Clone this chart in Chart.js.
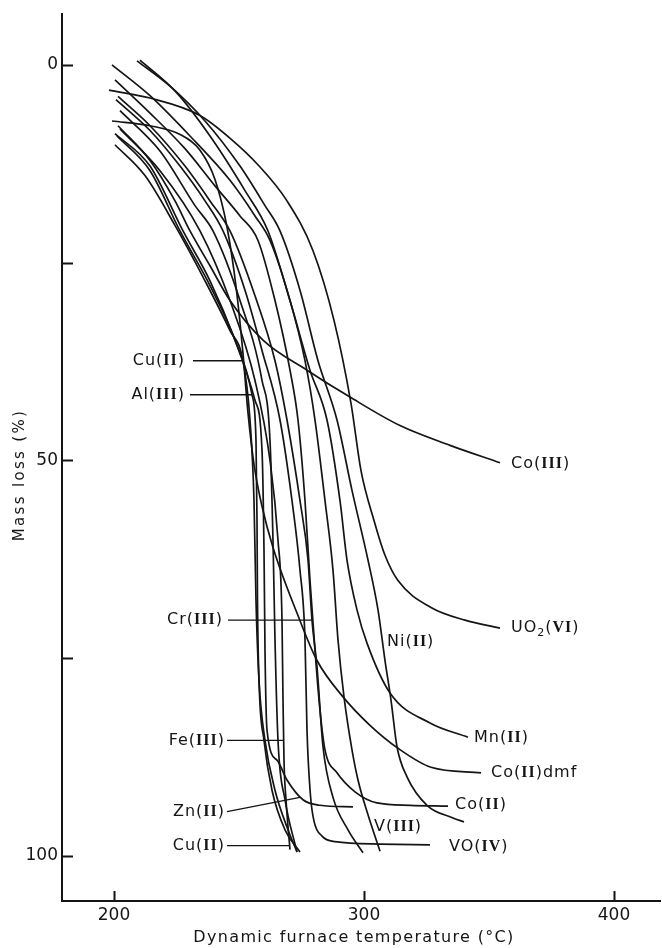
<!DOCTYPE html>
<html>
<head>
<meta charset="utf-8">
<script src="https://cdn.jsdelivr.net/npm/chart.js@4.4.0/dist/chart.umd.min.js"></script>
<style>
    html, body { margin: 0; padding: 0; background: #ffffff; }
    #caixa { width: 662px; height: 948px; }
</style>
</head>
<body>
<div id="caixa"><canvas id="graficoTG"></canvas></div>
<script>
// Escalas e marcas dos eixos
const xTicks = [200, 300, 400];
const yTicks = [0, 25, 50, 75, 100];
const yTickLabels = ['0', '', '50', '', '100'];

// Curvas termogravimétricas: temperatura (°C) e perda de massa (%)
const tempCu1 = [200.4, 212.4, 224.4, 236.4, 246.4, 251.6, 254.4, 256.0, 256.8, 258.0, 260.4, 264.4, 269.6, 273.2];
const perdaCu1 = [10.1, 14.0, 20.3, 27.3, 33.6, 37.4, 44.9, 55.1, 67.7, 77.8, 85.4, 91.7, 96.7, 99.5];

const tempAl = [201.2, 214.4, 226.4, 238.4, 248.4, 255.2, 256.8, 257.2, 257.4, 258.0, 260.0, 263.2, 268.4, 274.4];
const perdaAl = [9.0, 13.4, 21.0, 27.9, 34.8, 41.7, 47.5, 57.6, 67.7, 77.8, 85.4, 91.7, 96.7, 99.5];

const tempFe = [202.4, 218.4, 234.4, 246.4, 256.4, 262.4, 265.6, 267.2, 267.6, 268.0, 268.8, 270.4];
const perdaFe = [8.1, 13.4, 21.0, 29.8, 39.9, 50.0, 60.1, 70.2, 80.3, 87.9, 92.9, 99.2];

const tempCu2 = [202.4, 218.4, 232.4, 239.6, 250.4, 259.2, 262.4, 263.6, 264.4, 265.6, 268.4, 273.2];
const perdaCu2 = [5.8, 10.9, 17.8, 21.0, 29.8, 39.9, 47.5, 60.1, 72.7, 85.4, 92.9, 99.5];

const tempZn = [200.4, 214.4, 227.6, 238.4, 248.4, 256.4, 259.2, 260.0, 260.4, 261.2, 265.2, 269.2, 275.6, 282.4, 295.6];
const perdaZn = [8.7, 12.8, 21.0, 27.3, 34.8, 42.4, 48.7, 61.4, 74.0, 84.1, 87.9, 90.4, 92.9, 93.6, 93.8];

const tempCr = [201.6, 214.4, 228.4, 238.4, 246.4, 256.4, 264.4, 269.2, 274.4, 277.6, 279.2, 281.2, 283.6, 287.6, 293.6, 299.6];
const perdaCr = [4.0, 7.7, 12.8, 17.2, 21.0, 29.2, 37.4, 44.9, 55.1, 62.6, 70.2, 76.1, 86.2, 92.6, 96.7, 99.6];

const tempVO = [200.8, 214.4, 226.4, 236.4, 243.6, 252.4, 259.2, 266.4, 271.2, 274.4, 276.4, 277.2, 278.6, 280.0, 283.2, 288.4, 306.4, 326.4];
const perdaVO = [4.4, 8.3, 12.8, 17.2, 21.0, 28.5, 36.1, 44.9, 55.1, 63.9, 72.7, 84.1, 92.4, 95.6, 97.5, 98.2, 98.5, 98.6];

const tempCo2 = [200.4, 214.4, 228.4, 240.4, 250.4, 257.6, 264.4, 270.4, 273.6, 276.4, 278.4, 280.4, 282.4, 284.4, 289.2, 296.4, 305.2, 318.4, 333.6];
const perdaCo2 = [1.9, 6.1, 10.6, 15.3, 19.1, 22.2, 29.8, 38.6, 44.9, 55.1, 65.2, 74.0, 81.6, 86.6, 89.5, 91.9, 93.3, 93.6, 93.7];

const tempV = [199.2, 214.4, 230.4, 246.4, 256.4, 262.4, 270.4, 276.4, 280.4, 284.4, 287.6, 289.6, 292.0, 295.2, 297.6, 301.6, 306.4];
const perdaV = [0, 3.9, 9.0, 14.6, 19.1, 22.2, 29.8, 37.4, 44.9, 55.1, 63.9, 72.7, 79.9, 86.6, 90.4, 94.8, 99.4];

const tempMn = [210.4, 224.4, 238.4, 252.4, 261.6, 270.4, 278.4, 285.2, 290.4, 293.2, 297.2, 301.2, 310.4, 326.4, 341.6];
const perdaMn = [-0.6, 3.3, 9.0, 15.9, 21.0, 29.8, 38.6, 44.9, 55.1, 62.6, 68.9, 73.1, 79.4, 83.2, 85.0];

const tempNi = [209.2, 222.4, 236.4, 250.4, 260.4, 266.4, 274.4, 281.6, 289.2, 295.2, 301.6, 305.6, 308.4, 310.8, 313.2, 317.2, 325.2, 335.6, 340.0];
const perdaNi = [-0.5, 2.7, 7.1, 12.8, 17.8, 21.0, 28.5, 37.4, 44.9, 53.8, 62.6, 68.9, 75.3, 80.3, 86.2, 90.0, 93.6, 95.2, 95.7];

const tempDmf = [199.2, 214.4, 226.4, 234.4, 240.4, 245.2, 248.8, 251.6, 253.6, 256.0, 259.2, 263.6, 273.2, 281.2, 291.6, 302.4, 313.6, 326.8, 346.8];
const perdaDmf = [7.1, 7.7, 8.8, 10.8, 14.5, 20.5, 28.0, 36.5, 44.0, 50.5, 55.8, 61.0, 69.3, 75.3, 79.9, 83.5, 86.4, 88.8, 89.5];

const tempCo3 = [201.6, 214.4, 224.4, 230.4, 238.4, 246.4, 259.6, 277.2, 294.4, 314.4, 334.4, 354.4];
const perdaCo3 = [7.7, 12.1, 17.2, 21.0, 25.4, 29.8, 34.8, 38.6, 42.0, 45.6, 48.1, 50.3];

const tempUO2 = [198.0, 214.4, 234.4, 247.6, 257.2, 269.2, 279.6, 288.0, 294.8, 298.8, 304.0, 308.4, 313.6, 326.8, 340.4, 354.4];
const perdaUO2 = [3.2, 4.2, 6.4, 9.6, 12.5, 17.2, 23.5, 32.3, 42.8, 51.3, 57.6, 62.0, 65.2, 68.6, 70.2, 71.2];

const nomesCurvas = ['Cu(II)', 'Al(III)', 'Fe(III)', 'Cu(II)', 'Zn(II)', 'Cr(III)', 'VO(IV)', 'Co(II)',
    'V(III)', 'Mn(II)', 'Ni(II)', 'Co(II)dmf', 'Co(III)', 'UO2(VI)'];
const curvas = [
    [tempCu1, perdaCu1], [tempAl, perdaAl], [tempFe, perdaFe], [tempCu2, perdaCu2], [tempZn, perdaZn],
    [tempCr, perdaCr], [tempVO, perdaVO], [tempCo2, perdaCo2], [tempV, perdaV], [tempMn, perdaMn],
    [tempNi, perdaNi], [tempDmf, perdaDmf], [tempCo3, perdaCo3], [tempUO2, perdaUO2]
];

// Rótulos: texto, posição (°C, %), alinhamento; linhas de chamada em coordenadas dos dados
const rotulos = [
    { texto: 'Cu(II)', t: 228.4, p: 37.4, lado: 'right' },
    { texto: 'Al(III)', t: 228.4, p: 41.7, lado: 'right' },
    { texto: 'Cr(III)', t: 243.6, p: 70.2, lado: 'right' },
    { texto: 'Fe(III)', t: 244.4, p: 85.4, lado: 'right' },
    { texto: 'Zn(II)', t: 244.4, p: 94.4, lado: 'right' },
    { texto: 'Cu(II)', t: 244.4, p: 98.7, lado: 'right' },
    { texto: 'Co(III)', t: 358.8, p: 50.5, lado: 'left' },
    { texto: 'UO_2(VI)', t: 358.8, p: 71.2, lado: 'left' },
    { texto: 'Ni(II)', t: 309.2, p: 73.0, lado: 'left' },
    { texto: 'Mn(II)', t: 344.0, p: 85.1, lado: 'left' },
    { texto: 'Co(II)dmf', t: 350.8, p: 89.5, lado: 'left' },
    { texto: 'Co(II)', t: 336.4, p: 93.6, lado: 'left' },
    { texto: 'V(III)', t: 304.0, p: 96.3, lado: 'left' },
    { texto: 'VO(IV)', t: 334.0, p: 98.9, lado: 'left' }
];
const chamadas = [
    [231.6, 37.4, 251.6, 37.4],
    [230.4, 41.7, 255.2, 41.7],
    [245.6, 70.2, 279.6, 70.2],
    [245.2, 85.4, 267.6, 85.4],
    [245.2, 94.4, 274.4, 92.6],
    [245.2, 98.7, 270.4, 98.7]
];

document.addEventListener('DOMContentLoaded', function () {
    const cor = '#151515';
    const ctx = document.getElementById('graficoTG').getContext('2d');

    // Divide o rótulo em partes: letras sem serifa, algarismos romanos com serifa, índice
    function partesDoRotulo(texto) {
        const partes = [];
        let dentro = false;
        for (let i = 0; i < texto.length; i++) {
            const c = texto[i];
            if (c === '_') {
                partes.push({ t: texto[++i], tipo: 'sub' });
                continue;
            }
            if (c === '(') dentro = true;
            if (c === ')') dentro = false;
            const tipo = (dentro && 'IVX'.includes(c)) ? 'rom' : 'sans';
            const ultima = partes[partes.length - 1];
            if (ultima && ultima.tipo === tipo) ultima.t += c;
            else partes.push({ t: c, tipo: tipo });
        }
        return partes;
    }

    const fontes = {
        sans: '16px "DejaVu Sans"',
        rom: 'bold 16px "Liberation Serif"',
        sub: '11px "DejaVu Sans"'
    };

    function desenharRotulo(c, texto, x, y, lado) {
        const partes = partesDoRotulo(texto);
        c.letterSpacing = '1px';
        let largura = 0;
        partes.forEach(function (p) {
            c.font = fontes[p.tipo];
            p.w = c.measureText(p.t).width;
            largura += p.w;
        });
        let px = lado === 'right' ? x - largura : x;
        c.textAlign = 'left';
        c.textBaseline = 'middle';
        partes.forEach(function (p) {
            c.font = fontes[p.tipo];
            c.fillText(p.t, px, p.tipo === 'sub' ? y + 5 : y);
            px += p.w;
        });
    }

    // Texto com espaçamento ajustado para ocupar a largura desejada
    function textoEspacado(c, texto, fonte, largura) {
        c.font = fonte;
        c.letterSpacing = '0px';
        const w = c.measureText(texto).width;
        c.letterSpacing = ((largura - w) / (texto.length - 1)).toFixed(2) + 'px';
        c.textAlign = 'center';
        c.textBaseline = 'middle';
    }

    const decoracao = {
        id: 'decoracao',
        afterDraw(chart) {
            const c = chart.ctx;
            const area = chart.chartArea;
            const sx = chart.scales.x, sy = chart.scales.y;
            c.save();
            c.strokeStyle = cor;
            c.fillStyle = cor;

            // Marcas dos eixos voltadas para dentro
            c.lineWidth = 2;
            c.beginPath();
            yTicks.forEach(function (v) {
                const py = Math.round(sy.getPixelForValue(v)) + 0.5;
                c.moveTo(area.left, py);
                c.lineTo(area.left + 11, py);
            });
            xTicks.forEach(function (v) {
                const px = Math.round(sx.getPixelForValue(v)) + 0.5;
                c.moveTo(px, area.bottom);
                c.lineTo(px, area.bottom - 10);
            });
            c.stroke();

            // Linhas de chamada
            c.lineWidth = 1.4;
            c.beginPath();
            chamadas.forEach(function (l) {
                c.moveTo(sx.getPixelForValue(l[0]), sy.getPixelForValue(l[1]));
                c.lineTo(sx.getPixelForValue(l[2]), sy.getPixelForValue(l[3]));
            });
            c.stroke();

            // Rótulos das curvas
            rotulos.forEach(function (r) {
                desenharRotulo(c, r.texto, sx.getPixelForValue(r.t), sy.getPixelForValue(r.p), r.lado);
            });

            // Títulos dos eixos
            textoEspacado(c, 'Dynamic furnace temperature (°C)', '16px "DejaVu Sans"', 320);
            c.fillText('Dynamic furnace temperature (°C)', 354, 938);
            c.translate(20, 475);
            c.rotate(-Math.PI / 2);
            textoEspacado(c, 'Mass loss (%)', '15px "DejaVu Sans"', 130);
            c.fillText('Mass loss (%)', 0, 0);
            c.restore();
        }
    };

    const datasets = curvas.map(function (par, i) {
        return {
            label: nomesCurvas[i],
            data: par[0].map(function (t, k) { return { x: t, y: par[1][k] }; }),
            borderColor: cor,
            borderWidth: 1.7,
            pointRadius: 0,
            cubicInterpolationMode: 'monotone',
            fill: false
        };
    });

    new Chart(ctx, {
        type: 'line',
        data: { datasets: datasets },
        plugins: [decoracao],
        options: {
            responsive: true,
            maintainAspectRatio: false,
            animation: false,
            devicePixelRatio: 1,
            layout: { padding: { top: 13, right: 2, left: 0, bottom: 0 } },
            plugins: { legend: { display: false }, tooltip: { enabled: false } },
            scales: {
                x: {
                    type: 'linear',
                    min: 179.2,
                    max: 418.4,
                    afterBuildTicks: function (s) { s.ticks = xTicks.map(function (v) { return { value: v }; }); },
                    afterFit: function (s) { s.height = 47; },
                    grid: { display: false, drawTicks: false },
                    border: { display: true, color: cor, width: 2 },
                    ticks: { padding: 4, color: cor, font: { family: 'DejaVu Sans', size: 17 }, maxRotation: 0 }
                },
                y: {
                    type: 'linear',
                    reverse: true,
                    min: -6.4,
                    max: 105.7,
                    afterBuildTicks: function (s) { s.ticks = yTicks.map(function (v) { return { value: v }; }); },
                    afterFit: function (s) { s.width = 62; },
                    grid: { display: false, drawTicks: false },
                    border: { display: true, color: cor, width: 2 },
                    ticks: {
                        padding: 4,
                        color: cor,
                        font: { family: 'DejaVu Sans', size: 17 },
                        callback: function (v) { return yTickLabels[yTicks.indexOf(v)]; }
                    }
                }
            }
        }
    });
});
</script>
</body>
</html>
